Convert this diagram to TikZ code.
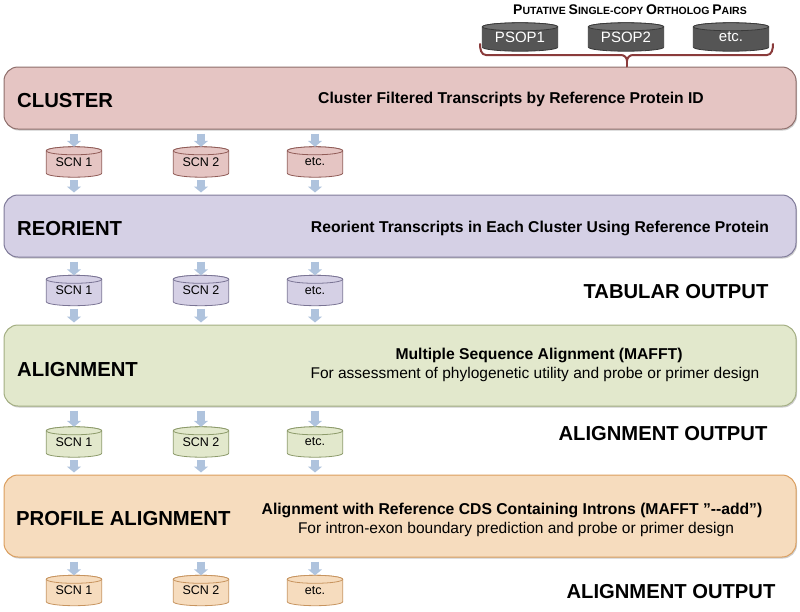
\documentclass[tikz,border=0pt]{standalone}
\usepackage{fontspec}
\setmainfont{Liberation Sans}
\usetikzlibrary{arrows.meta,shadows,calc,backgrounds}
\definecolor{clusfill}{HTML}{E5C5C3}
\definecolor{clusdraw}{HTML}{8E6E6B}
\definecolor{reorfill}{HTML}{D5D0E5}
\definecolor{reordraw}{HTML}{7F7A99}
\definecolor{alnfill}{HTML}{E2E8CC}
\definecolor{alndraw}{HTML}{A3AE82}
\definecolor{proffill}{HTML}{F6DCBE}
\definecolor{profdraw}{HTML}{DB9E5E}
\definecolor{cyl1draw}{HTML}{8F5B56}
\definecolor{cyl2draw}{HTML}{7A7494}
\definecolor{cyl3draw}{HTML}{8C9A6A}
\definecolor{cyl4draw}{HTML}{C7945F}
\definecolor{psopfill}{HTML}{555555}
\definecolor{psoptop}{HTML}{707070}
\definecolor{psopdraw}{HTML}{3A3A3A}
\definecolor{arrowblue}{HTML}{AFC3DD}
\definecolor{bracered}{HTML}{8A3B3B}
\newcommand\bigsc[2]{{\fontsize{14}{14}\selectfont #1}{\fontsize{10.5}{10.5}\selectfont #2}}
% cylinder body behind a named rectangular node: node, body fill, border, top fill
\newcommand\drawcyl[4]{%
  \path[fill=#2, draw=#3, line width=0.8pt] let \p1=($(#1.east)-(#1.west)$) in
    ([yshift=-4pt]#1.north west) -- ([yshift=4pt]#1.south west)
    arc[start angle=180, end angle=360, x radius=0.5*\x1, y radius=4pt]
    -- ([yshift=-4pt]#1.north east)
    arc[start angle=0, end angle=180, x radius=0.5*\x1, y radius=4pt] -- cycle;
  \path[fill=#4, draw=#3, line width=0.8pt] let \p1=($(#1.east)-(#1.west)$) in
    ([yshift=-4pt]#1.north) ellipse[x radius=0.5*\x1, y radius=4pt];
}
\begin{document}
\begin{tikzpicture}[x=1pt,y=-1pt,
  stage/.style={rectangle, rounded corners=14pt, line width=1pt, minimum width=792pt,
    drop shadow={shadow xshift=1pt, shadow yshift=-1.5pt, fill=black!40, opacity=0.5}},
  heading/.style={anchor=base west, font=\fontsize{20.3}{22}\selectfont\bfseries, inner sep=0pt},
  desc/.style={anchor=base, font=\fontsize{15.7}{18}\selectfont\bfseries, inner sep=0pt},
  descr/.style={anchor=base, font=\fontsize{15.5}{18}\selectfont, inner sep=0pt},
  outlabel/.style={anchor=base, font=\fontsize{20.2}{22}\selectfont\bfseries, inner sep=0pt},
  db/.style={rectangle, minimum width=55pt, minimum height=30pt, inner sep=0pt,
    font=\fontsize{12.5}{14}\selectfont},
  psop/.style={rectangle, minimum width=75pt, minimum height=28pt, inner sep=0pt, text=white,
    font=\fontsize{15}{16}\selectfont},
  barrow/.style={draw=arrowblue, line width=7.5pt, -{Triangle[width=14pt,length=6pt]}},
  brace/.style={draw=bracered, line width=2pt, line cap=round}
]
\useasboundingbox (0,0) rectangle (800,611);

% title and PSOP cylinders
\node[anchor=base, inner sep=0pt, font=\bfseries] (title) at (630,14)
  {\bigsc{P}{UTATIVE} \bigsc{S}{INGLE-COPY} \bigsc{O}{RTHOLOG} \bigsc{P}{AIRS}};
\node[psop] (p1) at (520,37) {PSOP1};
\node[psop] (p2) at (626,37) {PSOP2};
\node[psop] (p3) at (731,37) {etc.};

% stages
\node[stage, fill=clusfill, draw=clusdraw, minimum height=62pt] (clus) at (400,98) {};
\node[stage, fill=reorfill, draw=reordraw, minimum height=62pt] (reor) at (400,226) {};
\node[stage, fill=alnfill, draw=alndraw, minimum height=81pt] (aln) at (400,365.5) {};
\node[stage, fill=proffill, draw=profdraw, minimum height=82pt] (prof) at (400,516) {};

% brace
\coordinate (bl) at (480,44);
\coordinate (br) at (773,44);
\coordinate (btip) at (627,61);
\draw[brace] (bl) to[out=-90,in=180] (486,55) -- (621,55) to[out=0,in=90] (btip);
\draw[brace] (br) to[out=-90,in=0] (767,55) -- (633,55) to[out=180,in=90] (btip);
\draw[brace] (btip) -- (btip |- clus.north);

% stage texts
\node[heading] (h1) at (17,107) {CLUSTER};
\node[desc] (d1) at (511,103) {Cluster Filtered Transcripts by Reference Protein ID};
\node[heading] (h2) at (17,235) {REORIENT};
\node[desc] (d2) at (540,232) {Reorient Transcripts in Each Cluster Using Reference Protein};
\node[heading] (h3) at (17,376) {ALIGNMENT};
\node[desc] (d3) at (539,359) {Multiple Sequence Alignment (MAFFT)};
\node[descr] (e3) at (535,378) {For assessment of phylogenetic utility and probe or primer design};
\node[heading] (h4) at (16,525) {PROFILE ALIGNMENT};
\node[desc] (d4) at (512,514) {Alignment with Reference CDS Containing Introns (MAFFT ”-{}-add”)};
\node[descr] (e4) at (516,533) {For intron-exon boundary prediction and probe or primer design};

% output labels
\node[outlabel] (o1) at (676,298) {TABULAR OUTPUT};
\node[outlabel] (o2) at (663,440) {ALIGNMENT OUTPUT};
\node[outlabel] (o3) at (671,598) {ALIGNMENT OUTPUT};

% SCN cylinders (nodes)
\foreach \r/\y in {1/162, 2/290.5, 3/442, 4/590.5}{
  \node[db] (c\r a) at (74,\y) {SCN 1};
  \node[db] (c\r b) at (201,\y) {SCN 2};
  \node[db] (c\r c) at (315,\y) {etc.};
}

% cylinder bodies behind the nodes
\begin{scope}[on background layer]
  \drawcyl{p1}{psopfill}{psopdraw}{psoptop}
  \drawcyl{p2}{psopfill}{psopdraw}{psoptop}
  \drawcyl{p3}{psopfill}{psopdraw}{psoptop}
  \foreach \r/\f/\d in {1/clusfill/cyl1draw, 2/reorfill/cyl2draw, 3/alnfill/cyl3draw, 4/proffill/cyl4draw}{
    \foreach \c in {a,b,c}{\drawcyl{c\r\c}{\f}{\d}{\f}}
  }
\end{scope}

% arrows
\foreach \c in {a,b,c}{
  \draw[barrow, shorten <=4pt] (clus.south -| c1\c.north) -- (c1\c.north);
  \draw[barrow, shorten <=3pt, shorten >=2pt] (c1\c.south) -- (reor.north -| c1\c.south);
  \draw[barrow, shorten <=4pt] (reor.south -| c2\c.north) -- (c2\c.north);
  \draw[barrow, shorten <=3pt, shorten >=2pt] (c2\c.south) -- (aln.north -| c2\c.south);
  \draw[barrow, shorten <=4pt] (aln.south -| c3\c.north) -- (c3\c.north);
  \draw[barrow, shorten <=3pt, shorten >=2pt] (c3\c.south) -- (prof.north -| c3\c.south);
  \draw[barrow, shorten <=4pt] (prof.south -| c4\c.north) -- (c4\c.north);
}
\end{tikzpicture}
\end{document}
